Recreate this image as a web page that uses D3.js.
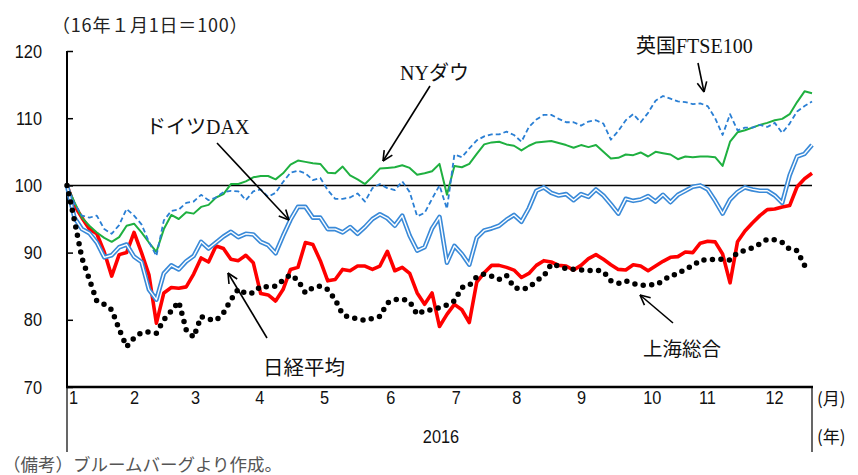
<!DOCTYPE html>
<html><head><meta charset="utf-8">
<script src="https://cdn.jsdelivr.net/npm/d3@7"></script>
<style>body{margin:0;background:#fff}</style>
</head><body><svg id="c" width="858" height="475"></svg>
<script>
const yTicks = [70, 80, 90, 100, 110, 120];
const months = ["1","2","3","4","5","6","7","8","9","10","11","12"];
const monthIdx = [0.8, 9.0, 17.2, 25.8, 34.5, 43.4, 52.2, 60.3, 69.0, 78.5, 85.9, 94.9];
const yearLabel = "2016";

const nikkei = [100,97,95.2,93.5,92.8,90.1,86.5,89.7,90,93,90,86.7,79.5,84,84.8,84.7,84.9,86.8,89.2,88.6,
91,90.6,89,88.8,89.6,88.5,83.9,83.7,82.8,84.5,87.5,87.8,91.5,91.2,88.8,85.8,86,87.5,87.3,88,
88,87.5,88,90.2,87.3,87.8,86.9,84,82.3,84,79,80.8,82.3,81.5,79.6,85.6,87,88.1,88.1,87.8,
87.4,86.3,86.9,88.1,88.8,88.6,88.1,88,87.4,88.1,89.1,89.7,89,88.2,87.5,87.4,88.2,88,87.3,88,
88.7,89.3,89.4,90.1,90,91.4,91.7,91.6,89.8,85.5,91.6,93.2,94.4,95.5,96.4,96.5,96.8,97,99.8,101,101.8];
const nyDow = [100,97.5,95.2,94,93,92.2,91.6,92.3,94,94.3,93,91.5,90.1,93.5,95.6,95,96,95.8,96.8,97.1,
98.2,98.7,100.2,100.2,100.6,101.2,101.4,101.4,100.9,101.8,103.1,103.7,103.5,103.3,103.2,101.9,101.8,102.8,101.5,100.9,
100.2,101.3,102.5,102.6,102.7,103,102.6,101.6,101.8,102.1,103.2,98.6,102.9,102.7,103.2,104.7,106.1,106.4,106.5,106.1,
105.9,105.2,105.9,106.4,106.5,106.6,106.3,106,105.6,106,105.7,106,105,104,104.1,104.6,104.5,104.9,104.3,105,
104.8,104.6,103.9,104.3,104.2,104.3,104.3,104.2,102.9,106.5,107.9,108.2,108.6,109,109.3,109.7,109.9,110.6,112.4,114,113.7];
const ftse = [100,97.3,95.5,95.2,95.5,93.5,92.8,94.1,96.5,95.5,94.2,91.6,89.5,94.8,96.2,96.4,97.4,97.6,98.6,97.8,
98.2,99,99.2,99.1,97.8,99.1,99.4,98.3,98.9,100.5,101.9,102.2,101.8,100.8,101.1,99.3,98,98,98.2,98.8,
97.6,99.6,100.2,99.6,99.3,100.6,99,95.4,95.9,98,100,96.5,104.6,104.2,105.5,106.7,107.3,107.6,107.6,108,
107.5,106.5,108.7,109.8,110.5,110.5,109.9,109.4,109.4,108.9,109.5,109.7,109.2,106.8,108.1,109.7,110.6,109.4,110.8,112.6,
113.3,112.9,112.5,112.4,112.1,112.2,111.8,110,107.5,110.6,108.2,108.6,108.6,109,108.7,109.3,107.8,109.2,111,111.8,112.5];
const dax = [100,95.2,93.5,92.9,91.5,89.3,89.6,90.8,91.2,89.4,88.6,84.5,83,86.9,88.1,87.5,88.7,89.5,91.6,90.6,
91.5,92.4,93.1,92.3,92.8,92.7,91.6,91.1,89.9,92.5,94.9,96.8,96.8,95.2,95.2,93.5,93.5,93,93.8,92.8,
93.8,95,95.7,95.1,94,95.5,92.5,90.3,90.8,93.6,95.3,88.5,91,89.8,88.2,92.2,93.3,93.6,94,94.9,
95.6,94.6,96.6,99.2,99.7,98.9,98.5,98.7,97.8,98.7,98.3,99.4,98.5,97.2,95.8,98,97.7,97.9,98.4,97.6,
98.6,97.5,98.6,99.2,99.8,100,99.4,97.7,95.8,97.9,99,99.7,99.4,99.2,99.2,98.5,97.4,101.5,104.3,104.7,106];
const shanghai = [100,94.8,89.2,86,82.8,82.3,81.5,78.6,76,77.3,78.1,78.2,78,80,81.3,82.7,78.5,77.4,80.5,80.1,
79.9,81,83,84.6,83.9,84,85,84.9,85,85.9,86.7,85.9,84,84.8,85,84.5,83,80.8,80.3,80.2,
79.9,80.2,80.5,82.5,83,83.1,82.7,80.8,81.4,81.5,81.8,82.2,82.8,84.8,85.1,86.4,86.8,86.5,86,86.6,
84.8,84.5,84.8,85.8,86.5,88.3,88,87.6,87.5,87.4,87.3,87.4,87.2,85.8,85.4,85.8,85.4,85.1,85.2,85.2,
85.8,86.6,86.8,87.6,88,88.9,88.9,89,89,88.9,90,90.3,90.7,91.3,92,91.9,91.5,90.5,90.3,88.1];

const svg = d3.select('#c');
const x = d3.scaleLinear().domain([0, 100]).range([67, 812]);
const y = d3.scaleLinear().domain([70, 120]).range([387, 51]);
const numFont = "'Liberation Sans',Arial,sans-serif";
const jpFont = "'Noto Sans CJK JP',sans-serif";
const mixFont = "'Liberation Serif','Noto Sans CJK JP',serif";
const narrow = 0.86;

// title
svg.append('text').attr('x', 52).attr('y', 32).attr('font-family', jpFont)
  .attr('font-size', 18).attr('letter-spacing', 0.8).attr('fill', '#222').text('（16年１月1日＝100）');

// y axis
const ya = svg.append('g').attr('transform', 'translate(67,0)')
  .call(d3.axisLeft(y).tickValues(yTicks).tickSize(-6).tickPadding(25));
ya.select('.domain').attr('stroke', '#000').attr('stroke-width', 2).attr('d', 'M0,51V387');
ya.selectAll('.tick line').attr('stroke', '#000').attr('stroke-width', 1.5);
ya.selectAll('.tick text').attr('font-family', numFont).attr('font-size', 19).attr('fill', '#111')
  .attr('x', -25 / narrow).attr('transform', `scale(${narrow},1)`);

// 100 line
svg.append('line').attr('x1', x(0)).attr('x2', x(100)).attr('y1', y(100)).attr('y2', y(100))
  .attr('stroke', '#000').attr('stroke-width', 1.5);

// x axis
const xa = svg.append('g').attr('transform', 'translate(0,387)')
  .call(d3.axisBottom(x).tickValues(monthIdx).tickFormat((d, i) => months[i]).tickSize(0).tickPadding(3));
xa.select('.domain').remove();
xa.selectAll('.tick text').attr('font-family', numFont).attr('font-size', 19).attr('fill', '#111')
  .attr('transform', `scale(${narrow},1)`);
svg.append('line').attr('x1', 66).attr('x2', 813).attr('y1', 387).attr('y2', 387).attr('stroke', '#000').attr('stroke-width', 2.5);
[0, 100].forEach(v => svg.append('line').attr('x1', x(v)).attr('x2', x(v)).attr('y1', 387).attr('y2', 452)
  .attr('stroke', '#000').attr('stroke-width', 1.2));
svg.append('g').attr('transform', 'translate(441,443)').append('text').attr('text-anchor', 'middle')
  .attr('font-family', numFont).attr('font-size', 19).attr('fill', '#111')
  .attr('transform', `scale(${narrow},1)`).text(yearLabel);
svg.append('text').attr('x', 817).attr('y', 405).attr('font-family', jpFont).attr('font-size', 17).attr('fill', '#111').text('(月)');
svg.append('text').attr('x', 817).attr('y', 443).attr('font-family', jpFont).attr('font-size', 17).attr('fill', '#111').text('(年)');

// footnote
svg.append('text').attr('x', 3).attr('y', 471).attr('font-family', jpFont).attr('font-size', 17.5)
  .attr('fill', '#555').text('（備考）ブルームバーグより作成。');

const line = d3.line().defined(d => d != null).x((d, i) => x(i)).y(d => y(d));
const g = svg.append('g').attr('fill', 'none').attr('stroke-linejoin', 'round');

g.append('path').attr('d', line(nikkei)).attr('stroke', '#ff0000').attr('stroke-width', 3.6);
g.append('path').attr('d', line(nyDow)).attr('stroke', '#1fb040').attr('stroke-width', 2);
g.append('path').attr('d', line(ftse)).attr('stroke', '#2a7fd4').attr('stroke-width', 1.8).attr('stroke-dasharray', '5 3');
g.append('path').attr('d', line(dax)).attr('stroke', '#3a8ad8').attr('stroke-width', 4.6);
g.append('path').attr('d', line(dax)).attr('stroke', '#ffffff').attr('stroke-width', 1.4);
g.append('path').attr('d', line(shanghai)).attr('stroke', '#000').attr('stroke-width', 5.5)
  .attr('stroke-linecap', 'round').attr('stroke-dasharray', '0 8.5');

// annotations
function arrow(x1, y1, x2, y2) {
  svg.append('line').attr('x1', x1).attr('y1', y1).attr('x2', x2).attr('y2', y2)
    .attr('stroke', '#000').attr('stroke-width', 1.6);
  const a = Math.atan2(y2 - y1, x2 - x1), L = 11, w = 0.45;
  [a + Math.PI - w, a + Math.PI + w].forEach(t => {
    svg.append('line').attr('x1', x2).attr('y1', y2)
      .attr('x2', x2 + L * Math.cos(t)).attr('y2', y2 + L * Math.sin(t))
      .attr('stroke', '#000').attr('stroke-width', 1.6);
  });
}
function label(tx, ty, t, font, size) {
  svg.append('text').attr('x', tx).attr('y', ty).attr('font-family', font).attr('font-size', size)
    .attr('fill', '#111').text(t);
}
label(400, 80, 'NYダウ', mixFont, 20); arrow(430, 86, 383, 161);
label(146, 134, 'ドイツDAX', mixFont, 20); arrow(217, 143, 289, 220);
label(636, 53, '英国FTSE100', mixFont, 20); arrow(698, 63, 704, 92);
label(263, 375, '日経平均', jpFont, 20.5); arrow(267, 338, 228, 273);
label(643, 356, '上海総合', jpFont, 19.5); arrow(673, 323, 640, 295);
</script></body></html>
